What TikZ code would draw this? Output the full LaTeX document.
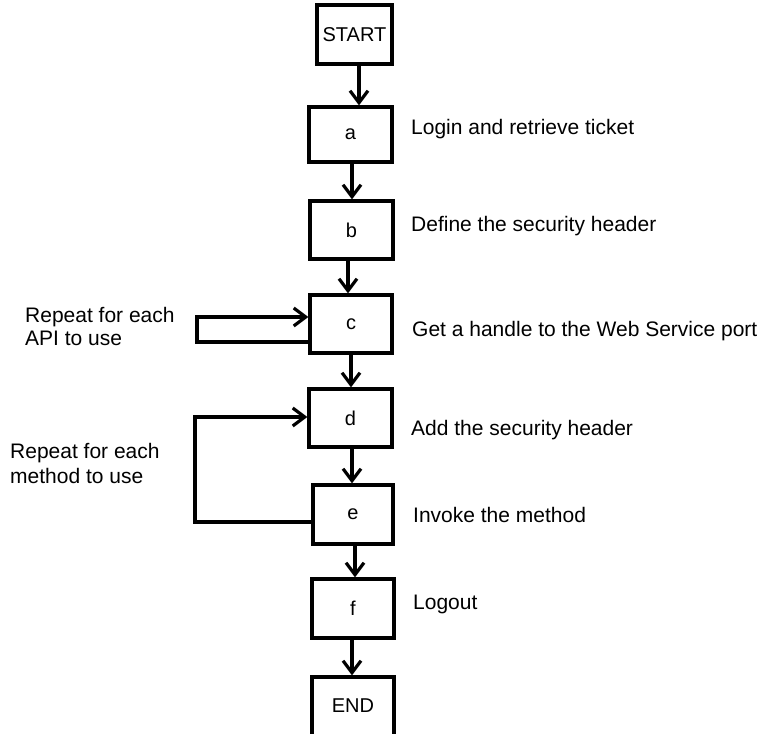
\documentclass[tikz,border=0pt]{standalone}
\usepackage{fontspec}
\setmainfont{Liberation Sans}
\usetikzlibrary{arrows.meta}
\begin{document}
\begin{tikzpicture}[x=1pt,y=-1pt,
  box/.style={draw=black, line width=3.2pt, inner sep=0pt, font=\fontsize{20}{23}\selectfont},
  lbl/.style={anchor=base west, inner sep=0pt, font=\fontsize{21}{23}\selectfont},
  mlbl/.style={anchor=north west, inner sep=0pt, align=left, font=\fontsize{21}{23}\selectfont},
  arr/.style={draw=black, line width=3.2pt, -{Straight Barb[length=12pt,width=18pt]}},
  ln/.style={draw=black, line width=3.2pt}]
\useasboundingbox (0,0) rectangle (764,734);
\clip (0,0) rectangle (764,734);
\fill[white] (0,0) rectangle (764,734);
% boxes
\node[box, minimum width=75pt, minimum height=59pt] (start) at (354.5,34.5) {START};
\node[box, minimum width=83pt, minimum height=55pt] (a) at (350.5,134.5) {a};
\node[box, minimum width=83pt, minimum height=58pt] (b) at (351.5,230) {b};
\node[box, minimum width=82pt, minimum height=58pt] (c) at (351,324) {c};
\node[box, minimum width=83pt, minimum height=58pt] (d) at (350.5,418) {d};
\node[box, minimum width=80pt, minimum height=59pt] (e) at (353,514.5) {e};
\node[box, minimum width=82pt, minimum height=59pt] (f) at (353,608.5) {f};
\node[box, minimum width=82pt, minimum height=110pt, text depth=0pt] (end) at (353,732) {};
\node[font=\fontsize{20}{23}\selectfont, inner sep=0pt] (endtxt) at (353,706) {END};
% labels
\node[lbl] (la) at (411,134) {Login and retrieve ticket};
\node[lbl] (lb) at (411,231) {Define the security header};
\node[lbl] (lc) at (412,336) {Get a handle to the Web Service port};
\node[lbl] (ld) at (411,435) {Add the security header};
\node[lbl] (le) at (413,522) {Invoke the method};
\node[lbl] (lf) at (413,609) {Logout};
\node[lbl] (rep1) at (25,322) {Repeat for each};
\node[lbl] (rep1b) at (25,345) {API to use};
\node[lbl] (rep2) at (10,458) {Repeat for each};
\node[lbl] (rep2b) at (10,483) {method to use};
% vertical arrows
\draw[arr] ([xshift=4.5pt]start.south) -- ([xshift=4.5pt]start.south |- a.north);
\draw[arr] ([xshift=1.5pt]a.south) -- ([xshift=1.5pt]a.south |- b.north);
\draw[arr] ([xshift=-3.5pt]b.south) -- ([xshift=-3.5pt]b.south |- c.north);
\draw[arr] (c.south) -- (c.south |- d.north);
\draw[arr] ([xshift=1.5pt]d.south) -- ([xshift=1.5pt]d.south |- e.north);
\draw[arr] ([xshift=2pt]e.south) -- ([xshift=2pt]e.south |- f.north);
\draw[arr] ([xshift=-1pt]f.south) -- ([xshift=-1pt]f.south |- end.north);
% loops
\coordinate (c1) at (197,317);
\coordinate (c2) at (197,342);
\draw[arr, line join=miter] (c.west |- c2) -- (c2) -- (c1) -- (c.west |- c1);
\coordinate (d1) at (195,417);
\coordinate (d2) at (195,522);
\draw[arr, line join=miter] (e.west |- d2) -- (d2) -- (d1) -- (d.west |- d1);
\end{tikzpicture}
\end{document}
